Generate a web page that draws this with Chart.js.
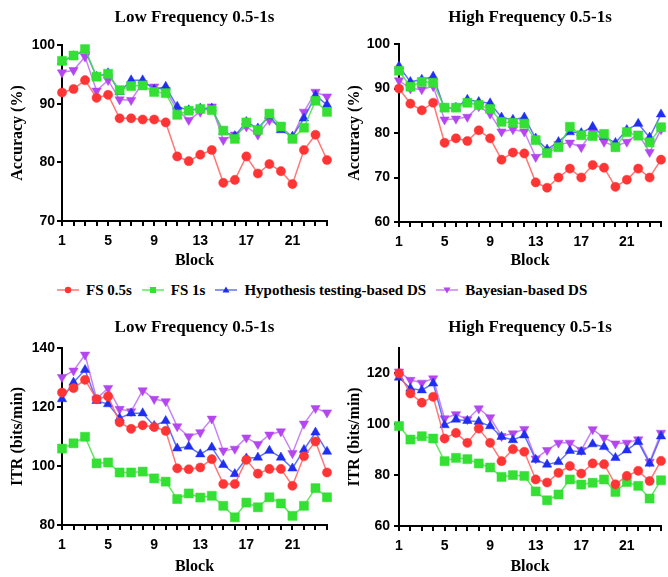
<!DOCTYPE html>
<html>
<head>
<meta charset="utf-8">
<script src="https://cdn.jsdelivr.net/npm/chart.js@4.4.1/dist/chart.umd.min.js"></script>
<style>
  body { margin: 0; background: #fff; }
  #wrap { position: relative; width: 668px; height: 577px; overflow: hidden; }
  .panel { position: absolute; }
  #legend {
    position: absolute; top: 280px; left: 57px; height: 20px;
    display: flex; align-items: center;
    font: bold 15px "Liberation Serif", serif; color: #000; white-space: nowrap;
  }
  #legend .item { display: flex; align-items: center; margin-right: 10px; }
  #legend svg { margin-right: 7px; }
</style>
</head>
<body>
<div id="wrap">
  <canvas class="panel" id="lowAcc" width="334" height="272" style="left:0;top:0"></canvas>
  <canvas class="panel" id="highAcc" width="334" height="272" style="left:334px;top:0"></canvas>
  <div id="legend"></div>
  <canvas class="panel" id="lowItr" width="334" height="272" style="left:0;top:305px"></canvas>
  <canvas class="panel" id="highItr" width="334" height="272" style="left:334px;top:305px"></canvas>
</div>
<script>
// ===== Data =====
const blocks = [1, 2, 3, 4, 5, 6, 7, 8, 9, 10, 11, 12, 13, 14, 15, 16, 17, 18, 19, 20, 21, 22, 23, 24];
const seriesNames = ["FS 0.5s", "FS 1s", "Hypothesis testing-based DS", "Bayesian-based DS"];

// Low frequency, accuracy (%)
const lowAccFs05 = [91.9, 92.5, 94.0, 91.0, 91.5, 87.5, 87.5, 87.3, 87.3, 86.8, 81.0, 80.2, 81.3, 82.1, 76.5, 77.0, 81.0, 78.1, 79.7, 78.5, 76.3, 82.1, 84.7, 80.4];
const lowAccFs1 = [97.3, 98.2, 99.3, 94.6, 95.1, 92.3, 93.0, 93.1, 92.0, 91.8, 88.1, 88.8, 89.1, 88.9, 85.4, 84.0, 86.8, 85.5, 88.3, 86.1, 84.0, 85.9, 90.5, 88.6];
const lowAccHyp = [97.2, 98.1, 99.1, 94.6, 95.2, 92.0, 94.0, 94.0, 92.4, 92.9, 89.5, 88.9, 89.2, 89.2, 85.2, 84.5, 86.9, 85.8, 87.9, 85.5, 84.4, 87.5, 91.4, 89.8];
const lowAccBay = [95.3, 95.7, 98.0, 92.2, 94.0, 90.7, 90.6, 93.5, 92.9, 92.3, 88.9, 87.2, 88.6, 89.5, 83.8, 84.7, 86.1, 84.7, 87.2, 86.1, 84.3, 88.6, 92.0, 91.2];

// High frequency, accuracy (%)
const highAccFs05 = [90.0, 86.6, 85.1, 86.8, 77.8, 78.8, 78.2, 80.6, 78.8, 74.0, 75.6, 75.4, 68.9, 67.7, 70.0, 72.0, 70.0, 72.8, 72.2, 67.9, 69.5, 72.0, 70.0, 74.0];
const highAccFs1 = [94.0, 90.4, 91.5, 91.3, 85.7, 85.7, 86.8, 86.3, 85.4, 82.5, 82.3, 82.1, 78.4, 75.5, 76.8, 81.4, 79.5, 79.3, 79.8, 76.8, 80.2, 79.4, 77.9, 81.3];
const highAccHyp = [95.0, 91.5, 92.0, 92.7, 85.5, 85.7, 87.5, 87.0, 86.7, 83.5, 83.0, 83.5, 78.8, 76.3, 78.0, 80.2, 80.0, 81.4, 79.2, 77.8, 80.7, 82.1, 79.0, 84.2];
const highAccBay = [91.8, 90.0, 89.8, 90.5, 83.0, 83.2, 83.6, 86.0, 84.3, 80.3, 80.8, 80.3, 74.6, 75.8, 77.5, 77.8, 76.8, 80.3, 78.0, 77.0, 78.0, 79.8, 75.7, 80.8];

// Low frequency, ITR (bits/min)
const lowItrFs05 = [124.9, 126.4, 129.2, 122.7, 123.6, 114.8, 112.6, 113.8, 113.2, 111.9, 99.2, 98.9, 99.5, 102.3, 93.9, 93.9, 102.1, 97.4, 99.0, 99.0, 93.3, 103.3, 108.3, 97.8];
const lowItrFs1 = [105.9, 107.7, 109.9, 100.9, 101.2, 97.8, 97.8, 98.1, 95.8, 94.7, 88.8, 90.7, 89.3, 89.9, 86.5, 82.6, 87.6, 86.0, 89.4, 87.3, 83.1, 86.5, 92.5, 89.4];
const lowItrHyp = [122.7, 128.3, 132.6, 122.1, 121.0, 116.2, 117.9, 117.9, 113.6, 115.3, 106.0, 106.6, 104.0, 106.3, 100.4, 97.3, 102.6, 102.9, 105.2, 102.9, 99.2, 105.5, 111.4, 104.9];
const lowItrBay = [130.1, 132.3, 137.7, 122.8, 126.4, 119.3, 118.5, 125.6, 122.7, 121.9, 113.4, 110.0, 111.4, 116.0, 105.2, 105.8, 109.6, 107.4, 110.6, 111.7, 104.3, 114.3, 119.6, 118.1];

// High frequency, ITR (bits/min)
const highItrFs05 = [120.0, 112.1, 108.5, 110.8, 94.4, 96.6, 92.7, 98.3, 92.7, 85.5, 90.2, 89.2, 78.3, 77.1, 80.9, 83.6, 80.6, 84.6, 84.3, 76.4, 79.7, 81.7, 77.7, 85.6];
const highItrFs1 = [99.3, 94.0, 95.3, 94.4, 85.5, 86.8, 86.3, 84.6, 83.0, 79.3, 80.0, 79.7, 73.6, 70.1, 72.4, 78.3, 76.3, 77.0, 78.3, 73.4, 77.3, 75.8, 70.8, 78.0];
const highItrHyp = [118.4, 114.1, 113.4, 116.1, 99.7, 101.9, 101.4, 101.0, 99.3, 95.1, 93.8, 95.7, 86.1, 84.2, 85.2, 89.6, 89.2, 92.2, 91.1, 86.8, 89.8, 93.1, 84.6, 95.3];
const highItrBay = [120.7, 117.4, 116.3, 118.0, 102.3, 103.9, 101.9, 106.2, 102.7, 95.3, 96.4, 98.1, 86.5, 89.8, 92.7, 92.7, 89.8, 98.0, 94.7, 92.4, 92.7, 94.0, 85.2, 96.6];

// y tick labels
const accTicksLow = [70, 80, 90, 100];
const accTicksHigh = [60, 70, 80, 90, 100];
const itrTicksLow = [80, 100, 120, 140];
const itrTicksHigh = [60, 80, 100, 120];

// ===== Styles =====
const seriesStyle = [
  { line: "rgba(255,95,95,0.85)", point: "#ff3535", shape: "circle", radius: 4.6, rot: 0 },
  { line: "rgba(70,225,70,0.85)", point: "#33e033", shape: "rect", radius: 6.4, rot: 0 },
  { line: "rgba(70,90,245,0.85)", point: "#1f2ef0", shape: "triangle", radius: 5.4, rot: 0 },
  { line: "rgba(190,110,240,0.85)", point: "#b446f0", shape: "triangle", radius: 5.4, rot: 180 },
];

const tickFont = { family: "'Liberation Sans', Arial, sans-serif", weight: "bold", size: 14 };
const titleFont = { family: "'Liberation Serif', 'Times New Roman', serif", weight: "bold", size: 16 };

function makePanel(id, title, yTitle, yMin, yMax, yTicks, values, g) {
  const datasets = values.map((arr, i) => ({
    label: seriesNames[i],
    data: arr,
    borderColor: seriesStyle[i].line,
    backgroundColor: seriesStyle[i].point,
    pointBackgroundColor: seriesStyle[i].point,
    pointBorderColor: seriesStyle[i].point,
    pointBorderWidth: 0.5,
    pointStyle: seriesStyle[i].shape,
    pointRadius: seriesStyle[i].radius,
    pointRotation: seriesStyle[i].rot,
    borderWidth: 1.5,
    tension: 0,
    fill: false,
    clip: false,
  }));

  return new Chart(document.getElementById(id), {
    type: "line",
    data: { labels: blocks, datasets: datasets },
    options: {
      responsive: false,
      animation: false,
      layout: { padding: { left: 0, right: g.right, top: 0, bottom: 0 } },
      plugins: {
        legend: { display: false },
        tooltip: { enabled: false },
        title: {
          display: true,
          text: title,
          color: "#000",
          fullSize: false,
          font: { family: titleFont.family, weight: "bold", size: 17 },
          padding: { top: g.titleTop, bottom: g.titleBottom },
        },
      },
      scales: {
        x: {
          type: "category",
          offset: false,
          border: { color: "#000", width: 2 },
          grid: { drawOnChartArea: false, offset: false, color: "#000", lineWidth: 2, tickLength: 5 },
          ticks: {
            color: "#000",
            font: tickFont,
            autoSkip: false,
            maxRotation: 0,
            padding: 7,
            callback: (val, i) => ((blocks[i] - 1) % 4 === 0 ? blocks[i] : ""),
          },
          title: { display: true, text: "Block", color: "#000", font: titleFont, padding: { top: 0, bottom: g.blockPad } },
          afterFit: (s) => { s.height = g.xHeight; },
        },
        y: {
          min: yMin,
          max: yMax,
          border: { color: "#000", width: 2 },
          grid: { drawOnChartArea: false, color: "#000", lineWidth: 2, tickLength: 5 },
          ticks: { color: "#000", font: tickFont, padding: g.yPad },
          afterBuildTicks: (s) => { s.ticks = yTicks.map((v) => ({ value: v })); },
          title: { display: true, text: yTitle, color: "#000", font: titleFont, padding: { top: g.yTitlePad, bottom: 0 } },
          afterFit: (s) => { s.width = g.yWidth; },
        },
      },
    },
  });
}

const topLeft = { right: 7, yWidth: 62, yPad: 2, yTitlePad: 8, xHeight: 51, blockPad: 2, titleTop: 7, titleBottom: 17.6 };
const topRight = { right: 4, yWidth: 65, yPad: 4, yTitlePad: 11, xHeight: 50, blockPad: 2, titleTop: 7, titleBottom: 16.6 };
const botLeft = { right: 7, yWidth: 62, yPad: 2, yTitlePad: 8, xHeight: 52, blockPad: 1, titleTop: 12, titleBottom: 10.6 };
const botRight = { right: 4, yWidth: 65, yPad: 4, yTitlePad: 11, xHeight: 51, blockPad: 1, titleTop: 12, titleBottom: 10.6 };

makePanel("lowAcc", "Low Frequency 0.5-1s", "Accuracy (%)", 70, 100, accTicksLow,
  [lowAccFs05, lowAccFs1, lowAccHyp, lowAccBay], topLeft);
makePanel("highAcc", "High Frequency 0.5-1s", "Accuracy (%)", 60, 100, accTicksHigh,
  [highAccFs05, highAccFs1, highAccHyp, highAccBay], topRight);
makePanel("lowItr", "Low Frequency 0.5-1s", "ITR (bits/min)", 80, 140, itrTicksLow,
  [lowItrFs05, lowItrFs1, lowItrHyp, lowItrBay], botLeft);
makePanel("highItr", "High Frequency 0.5-1s", "ITR (bits/min)", 60, 130, itrTicksHigh,
  [highItrFs05, highItrFs1, highItrHyp, highItrBay], botRight);

// ===== Shared legend =====
function markerSvg(s) {
  let shape;
  if (s.shape === "circle") shape = `<circle cx="11" cy="6" r="3.2" fill="${s.point}"/>`;
  else if (s.shape === "rect") shape = `<rect x="8" y="3" width="6" height="6" fill="${s.point}"/>`;
  else if (s.rot === 180) shape = `<polygon points="7.5,3.5 14.5,3.5 11,9.5" fill="${s.point}"/>`;
  else shape = `<polygon points="7.5,8.5 14.5,8.5 11,2.5" fill="${s.point}"/>`;
  return `<svg width="22" height="12"><line x1="0" y1="6" x2="22" y2="6" stroke="${s.line}" stroke-width="1.5"/>${shape}</svg>`;
}
const legendEl = document.getElementById("legend");
seriesNames.forEach((name, i) => {
  const item = document.createElement("div");
  item.className = "item";
  item.innerHTML = markerSvg(seriesStyle[i]) + `<span>${name}</span>`;
  legendEl.appendChild(item);
});
</script>
</body>
</html>
